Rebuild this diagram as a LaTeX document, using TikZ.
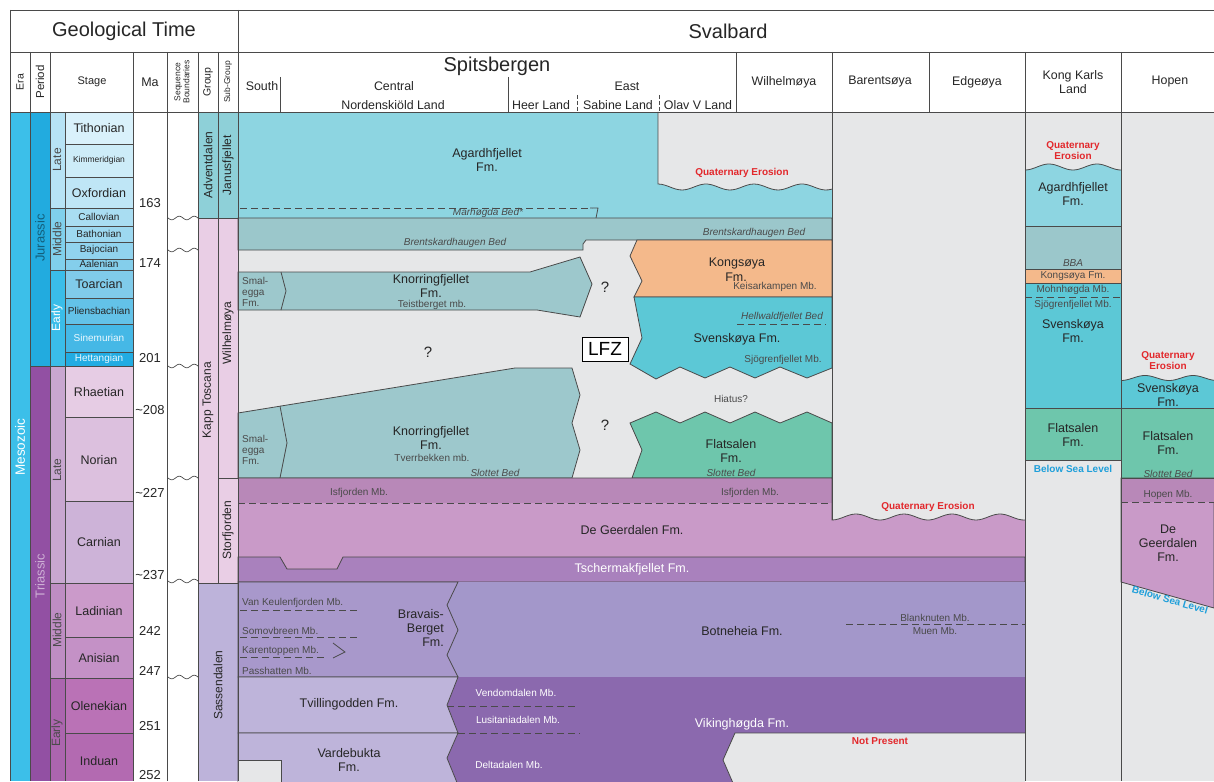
\documentclass[tikz,border=0pt]{standalone}
\usepackage{fontspec}
\setmainfont{Liberation Sans}
\begin{document}
\begin{tikzpicture}[x=1pt,y=-1pt]
\definecolor{ln}{HTML}{4A4A4A}
\definecolor{txt}{HTML}{262626}
\definecolor{txs}{HTML}{4A4A4A}
\definecolor{gbg}{HTML}{E6E7E8}
\definecolor{mesoz}{HTML}{3CBFE9}
\definecolor{juras}{HTML}{22ABDF}
\definecolor{trias}{HTML}{9250A3}
\definecolor{jlate}{HTML}{B7E3F5}
\definecolor{jmid}{HTML}{80D0EC}
\definecolor{jearly}{HTML}{3ABDE9}
\definecolor{tlate}{HTML}{C8A7D0}
\definecolor{tmid}{HTML}{BE8DC3}
\definecolor{tearly}{HTML}{AB65AE}
\definecolor{sTit}{HTML}{D9F1FB}
\definecolor{sKim}{HTML}{CDECF8}
\definecolor{sOxf}{HTML}{BFE6F6}
\definecolor{sCal}{HTML}{A9DDF2}
\definecolor{sBat}{HTML}{9DD8F0}
\definecolor{sBaj}{HTML}{91D3EE}
\definecolor{sAal}{HTML}{84CEEB}
\definecolor{sToa}{HTML}{80CBEA}
\definecolor{sPli}{HTML}{63C2E8}
\definecolor{sSin}{HTML}{45B8E6}
\definecolor{sHet}{HTML}{22ACE2}
\definecolor{sRha}{HTML}{E6CCE4}
\definecolor{sNor}{HTML}{DCC0DE}
\definecolor{sCar}{HTML}{CDB3D8}
\definecolor{sLad}{HTML}{CB9ACA}
\definecolor{sAni}{HTML}{C491C6}
\definecolor{sOle}{HTML}{BA72B6}
\definecolor{sInd}{HTML}{B36AB1}
\definecolor{grpT}{HTML}{8ED0D8}
\definecolor{grpK}{HTML}{E9CEE5}
\definecolor{grpS}{HTML}{BDB3DA}
\definecolor{agd}{HTML}{8DD5E1}
\definecolor{brk}{HTML}{9BC7CB}
\definecolor{knr}{HTML}{9DC8CC}
\definecolor{kgs}{HTML}{F4B98B}
\definecolor{svk}{HTML}{5CC8D6}
\definecolor{fls}{HTML}{6EC6AC}
\definecolor{isf}{HTML}{B888B8}
\definecolor{dgd}{HTML}{C99AC8}
\definecolor{tsc}{HTML}{A981BD}
\definecolor{brv}{HTML}{A898CB}
\definecolor{btn}{HTML}{A397CA}
\definecolor{tvl}{HTML}{BEB4DA}
\definecolor{vkg}{HTML}{8B69AE}
\definecolor{qred}{HTML}{E2282C}
\definecolor{sblue}{HTML}{1E9FDA}
\tikzset{
 bnd/.style={draw=ln,line width=0.8pt},
 dsh/.style={draw=ln,line width=0.8pt,dash pattern=on 7pt off 4pt},
 tx/.style={inner sep=0pt,align=center,text=txt},
 tbig/.style={tx,font=\fontsize{20}{23}\selectfont},
 thd/.style={tx,font=\fontsize{12.4}{14}\selectfont},
 tfm/.style={tx,font=\fontsize{12.5}{14}\selectfont},
 tmb/.style={tx,font=\fontsize{10}{11}\selectfont,text=txs},
 tmbl/.style={inner sep=0pt,align=left,anchor=west,font=\fontsize{10}{11}\selectfont,text=txs},
 tbed/.style={tx,font=\fontsize{10}{11}\selectfont\itshape,text=txs},
 tqe/.style={tx,font=\fontsize{10}{11}\selectfont\bfseries,text=qred},
 tbsl/.style={tx,font=\fontsize{10}{11}\selectfont\bfseries,text=sblue},
 tstb/.style={tx,font=\fontsize{12.5}{14}\selectfont},
 tstm/.style={tx,font=\fontsize{10}{11}\selectfont},
 tma/.style={tx,font=\fontsize{13}{15}\selectfont},
 trot/.style={tx,rotate=90,font=\fontsize{12}{14}\selectfont},
}
\useasboundingbox (0,0) rectangle (1214,781);
\clip (0,0) rectangle (1214,781);
\fill[white] (0,0) rectangle (1214,781);

% ---------- left time columns ----------
\fill[mesoz] (10,112) rectangle (30,781);
\fill[juras] (30,112) rectangle (50,366);
\fill[trias] (30,366) rectangle (50,781);
\fill[jlate] (50,112) rectangle (65,208);
\fill[jmid] (50,208) rectangle (65,270);
\fill[jearly] (50,270) rectangle (65,366);
\fill[tlate] (50,366) rectangle (65,583);
\fill[tmid] (50,583) rectangle (65,678);
\fill[tearly] (50,678) rectangle (65,781);
\fill[sTit] (65,112) rectangle (133,144);
\fill[sKim] (65,144) rectangle (133,177);
\fill[sOxf] (65,177) rectangle (133,208);
\fill[sCal] (65,208) rectangle (133,226);
\fill[sBat] (65,226) rectangle (133,242);
\fill[sBaj] (65,242) rectangle (133,259);
\fill[sAal] (65,259) rectangle (133,270);
\fill[sToa] (65,270) rectangle (133,298);
\fill[sPli] (65,298) rectangle (133,324);
\fill[sSin] (65,324) rectangle (133,352);
\fill[sHet] (65,352) rectangle (133,366);
\fill[sRha] (65,366) rectangle (133,417);
\fill[sNor] (65,417) rectangle (133,501);
\fill[sCar] (65,501) rectangle (133,583);
\fill[sLad] (65,583) rectangle (133,637);
\fill[sAni] (65,637) rectangle (133,678);
\fill[sOle] (65,678) rectangle (133,733);
\fill[sInd] (65,733) rectangle (133,781);
\foreach \yy in {144,177,208,226,242,259,270,298,324,352,366,417,501,583,637,678,733}
  \draw[bnd] (65,\yy) -- (133,\yy);
\foreach \yy in {208,270,366,583,678} \draw[bnd] (50,\yy) -- (65,\yy);
\draw[bnd] (30,366) -- (50,366);
% groups
\fill[grpT] (198,112) rectangle (238,218);
\fill[grpK] (198,218) rectangle (238,583);
\fill[grpS] (198,583) rectangle (238,781);
\draw[bnd] (198,218) -- (238,218);
\draw[bnd] (198,583) -- (238,583);
\draw[bnd] (218,478) -- (238,478);
% sequence boundaries
\foreach \yy in {218,250,366,478,581,677}
  \draw[ln,line width=0.7pt] plot[domain=168:198,samples=25] (\x,{\yy+1.8*sin((\x-168)*24)});

% ---------- Svalbard body ----------
\fill[gbg] (238,112) rectangle (1214,781);
% Agardhfjellet
\fill[agd] (238,112) rectangle (832,218);
\fill[gbg] (658,112) -- plot[domain=658:832,samples=50] (\x,{187-3*cos((\x-658)*7.5)}) -- (832,112) -- cycle;
\draw[bnd] (658,112) -- plot[domain=658:832,samples=50] (\x,{187-3*cos((\x-658)*7.5)});
\draw[dsh] (240,208) -- (592,208);
\draw[bnd] (590,208) -- (598,208) -- (596,218);
% Brentskardhaugen
\filldraw[fill=brk,bnd] (238,218) -- (832,218) -- (832,240) -- (586,240) -- (583,244) -- (583,250) -- (238,250) -- cycle;
% upper Knorringfjellet
\filldraw[fill=knr,bnd] (238,272) -- (530,272) -- (580,257) -- (592,284) -- (580,317) -- (537,310) -- (238,310) -- cycle;
\draw[bnd] (281,272) -- (286,291) -- (281,310);
% lower Knorringfjellet
\filldraw[fill=knr,bnd] (238,413) -- (515,368) -- (572,368) -- (580,395) -- (572,423) -- (580,450) -- (572,478) -- (238,478) -- cycle;
\draw[bnd] (280,406) -- (287,443) -- (280,478);
% Kongsoya
\filldraw[fill=kgs,bnd] (637,240) -- (832,240) -- (832,297) -- (634,297) -- (642,281) -- (630,256) -- cycle;
% Svenskoya
\filldraw[fill=svk,bnd] (634,297) -- (832,297) -- (832,368) -- (807,378) -- (780,367) -- (755,378) -- (730,367) -- (705,378) -- (680,367) -- (656,379) -- (630,364) -- (642,338) -- cycle;
\draw[dsh] (737,324) -- (826,324);
% Flatsalen
\filldraw[fill=fls,bnd] (630,423) -- (656,412) -- (680,423) -- (705,412) -- (730,423) -- (755,412) -- (780,423) -- (807,412) -- (832,423) -- (832,478) -- (632,478) -- (642,450) -- cycle;
% LFZ box
\node[draw=black,line width=0.8pt,fill=white,minimum width=46pt,minimum height=24pt,inner sep=0pt,font=\fontsize{19}{21}\selectfont] (lfz) at (605,349) {LFZ};

% Triassic Kapp Toscana / Storfjorden
\fill[dgd] (238,478) rectangle (1025,582);
\fill[isf] (238,478) rectangle (832,503);
\fill[gbg] (832,478) -- plot[domain=832:1025,samples=60] (\x,{517+3*cos((\x-832)*7.5)}) -- (1025,478) -- cycle;
\draw[bnd] (238,478) -- (832,478) -- plot[domain=832:1025,samples=60] (\x,{517+3*cos((\x-832)*7.5)});
\draw[dsh] (238,503) -- (832,503);
\filldraw[fill=tsc,bnd] (238,557) -- (280,557) -- (287,569) -- (337,569) -- (343,557) -- (1025,557) -- (1025,582) -- (238,582) -- cycle;
% Sassendalen
\fill[btn] (238,582) rectangle (1025,677);
\filldraw[fill=brv,bnd] (238,582) -- (458,582) -- (447,605) -- (458,630) -- (447,655) -- (458,677) -- (238,677) -- cycle;
\draw[bnd] (238,677) -- (1025,677);
\draw[dsh] (240,610) -- (357,610);
\draw[dsh] (240,637) -- (357,637);
\draw[dsh] (240,657) -- (327,657);
\draw[bnd] (333,643) -- (345,652) -- (333,658);
\draw[dsh] (846,624) -- (1025,624);
\fill[vkg] (440,677) rectangle (1025,790);
\filldraw[fill=tvl,bnd] (238,677) -- (458,677) -- (447,705) -- (458,733) -- (238,733) -- cycle;
\filldraw[fill=tvl,bnd] (238,733) -- (458,733) -- (447,758) -- (458,785) -- (238,785) -- cycle;
\filldraw[fill=gbg,bnd] (238,760) -- (281,760) -- (281,790) -- (238,790);
\filldraw[fill=gbg,bnd] (1025,733) -- (735,733) -- (723,760) -- (736,790) -- (1025,790);
\draw[dsh] (447,706) -- (575,706);
\draw[dsh,line width=0.5pt] (458,733) -- (580,733);

% Kong Karls Land
\fill[agd] (1025,226) -- plot[domain=1025:1121,samples=40] (\x,{167+3*cos((\x-1025)*7.5)}) -- (1121,226) -- cycle;
\draw[bnd] plot[domain=1025:1121,samples=40] (\x,{167+3*cos((\x-1025)*7.5)});
\filldraw[fill=brk,bnd] (1025,226) rectangle (1121,269);
\filldraw[fill=kgs,bnd] (1025,269) rectangle (1121,283);
\filldraw[fill=svk,bnd] (1025,283) rectangle (1121,408);
\filldraw[fill=fls,bnd] (1025,408) rectangle (1121,460);
\draw[dsh] (1025,297) -- (1121,297);
% Hopen
\fill[svk] (1121,408) -- plot[domain=1121:1214,samples=40] (\x,{378+2.5*cos((\x-1121)*7.5)}) -- (1214,408) -- cycle;
\draw[bnd] plot[domain=1121:1214,samples=40] (\x,{378+2.5*cos((\x-1121)*7.5)});
\filldraw[fill=fls,bnd] (1121,408) rectangle (1214,478);
\filldraw[fill=dgd,bnd] (1121,478) -- (1214,478) -- (1214,608) -- (1121,582) -- cycle;
\fill[isf] (1121,478) rectangle (1214,502);
\draw[bnd] (1121,478) -- (1214,478);
\draw[dsh] (1121,502) -- (1214,502);

% ---------- frame lines ----------
\draw[bnd] (10,10) -- (1214,10);
\draw[bnd] (10,52) -- (1214,52);
\draw[bnd] (10,112) -- (1214,112);
\draw[bnd] (10,10) -- (10,781);
\draw[bnd] (238,10) -- (238,781);
\foreach \xx in {30,50,133,167,198} \draw[bnd] (\xx,52) -- (\xx,781);
\draw[bnd] (218,52) -- (218,583);
\draw[bnd] (65,112) -- (65,781);
\draw[bnd] (736,52) -- (736,112);
\draw[bnd] (929,52) -- (929,112);
\draw[bnd] (832,52) -- (832,520);
\draw[bnd] (1025,52) -- (1025,781);
\draw[bnd] (1121,52) -- (1121,781);
\draw[bnd] (280,77) -- (280,112);
\draw[bnd] (508,77) -- (508,112);
\draw[ln,line width=0.8pt,dash pattern=on 4pt off 2pt] (577,95) -- (577,111);
\draw[ln,line width=0.8pt,dash pattern=on 4pt off 2pt] (659,95) -- (659,111);

% ---------- header texts ----------
\node[tbig] (hGT) at (124,31) {Geological Time};
\node[tbig] (hSv) at (728,31) {Svalbard};
\node[tx,rotate=90,font=\fontsize{10.5}{12}\selectfont] (hEra) at (20,82) {Era};
\node[tx,rotate=90,font=\fontsize{11.5}{13}\selectfont] (hPer) at (40,82) {Period};
\node[tx,font=\fontsize{11}{13}\selectfont] (hStg) at (92,82) {Stage};
\node[tx,font=\fontsize{12.5}{14}\selectfont] (hMa) at (150,82) {Ma};
\node[tx,rotate=90,font=\fontsize{8.5}{9}\selectfont] (hSeq) at (182,82) {Sequence\\Boundaries};
\node[tx,rotate=90,font=\fontsize{10.5}{12}\selectfont] (hGrp) at (208,82) {Group};
\node[tx,rotate=90,font=\fontsize{8.5}{10}\selectfont] (hSub) at (228,82) {Sub-Group};
\node[tx,font=\fontsize{20}{23}\selectfont] (hSp) at (497,66) {Spitsbergen};
\node[thd] (hSo) at (262,86) {South};
\node[thd] (hCe) at (394,86) {Central};
\node[thd] (hEa) at (627,86) {East};
\node[thd] (hNo) at (393,105) {Nordenskiöld Land};
\node[thd] (hHe) at (541,105) {Heer Land};
\node[thd] (hSa) at (618,105) {Sabine Land};
\node[thd] (hOl) at (698,105) {Olav V Land};
\node[thd] (hWi) at (784,82) {Wilhelmøya};
\node[thd] (hBa) at (880,82) {Barentsøya};
\node[thd] (hEd) at (977,82) {Edgeøya};
\node[thd] (hKK) at (1073,82) {Kong Karls\\Land};
\node[thd] (hHo) at (1170,82) {Hopen};

% ---------- time column texts ----------
\node[tx,rotate=90,text=white,font=\fontsize{13.5}{15}\selectfont] (tMes) at (20,447) {Mesozoic};
\node[tx,rotate=90,text=juras!55!black,font=\fontsize{13}{15}\selectfont] (tJur) at (40,238) {Jurassic};
\node[tx,rotate=90,text=tlate!90!white,font=\fontsize{13}{15}\selectfont] (tTri) at (40,576) {Triassic};
\node[tx,rotate=90,text=txs,font=\fontsize{12}{14}\selectfont] (eJL) at (57,160) {Late};
\node[tx,rotate=90,text=txs,font=\fontsize{12}{14}\selectfont] (eJM) at (57,239) {Middle};
\node[tx,rotate=90,text=white,font=\fontsize{12}{14}\selectfont] (eJE) at (57,318) {Early};
\node[tx,rotate=90,text=txs,font=\fontsize{12}{14}\selectfont] (eTL) at (57,470) {Late};
\node[tx,rotate=90,text=txs,font=\fontsize{12}{14}\selectfont] (eTM) at (57,630) {Middle};
\node[tx,rotate=90,text=txs,font=\fontsize{12}{14}\selectfont] (eTE) at (57,733) {Early};
\node[tstb] (sg1) at (99,128) {Tithonian};
\node[tx,font=\fontsize{8.5}{10}\selectfont] (sg2) at (99,160) {Kimmeridgian};
\node[tstb] (sg3) at (99,193) {Oxfordian};
\node[tstm] (sg4) at (99,217) {Callovian};
\node[tstm] (sg5) at (99,234) {Bathonian};
\node[tstm] (sg6) at (99,250) {Bajocian};
\node[tstm] (sg7) at (99,264) {Aalenian};
\node[tstb] (sg8) at (99,284) {Toarcian};
\node[tstm] (sg9) at (99,311) {Pliensbachian};
\node[tstm,text=white!92!cyan] (sg10) at (99,338) {Sinemurian};
\node[tstm,text=white!92!cyan] (sg11) at (99,359) {Hettangian};
\node[tstb] (sg12) at (99,392) {Rhaetian};
\node[tstb] (sg13) at (99,460) {Norian};
\node[tstb] (sg14) at (99,542) {Carnian};
\node[tstb] (sg15) at (99,611) {Ladinian};
\node[tstb] (sg16) at (99,658) {Anisian};
\node[tstb] (sg17) at (99,706) {Olenekian};
\node[tstb] (sg18) at (99,761) {Induan};
\node[tma] (m1) at (150,203) {163};
\node[tma] (m2) at (150,263) {174};
\node[tma] (m3) at (150,358) {201};
\node[tma] (m4) at (150,410) {\textasciitilde208};
\node[tma] (m5) at (150,493) {\textasciitilde227};
\node[tma] (m6) at (150,575) {\textasciitilde237};
\node[tma] (m7) at (150,631) {242};
\node[tma] (m8) at (150,671) {247};
\node[tma] (m9) at (150,726) {251};
\node[tma] (m10) at (150,775) {252};
\node[trot] (gAd) at (208,165) {Adventdalen};
\node[trot] (gJa) at (228,165) {Janusfjellet};
\node[trot] (gKT) at (208,400) {Kapp Toscana};
\node[trot] (gWi) at (228,333) {Wilhelmøya};
\node[trot] (gSt) at (228,530) {Storfjorden};
\node[trot] (gSa) at (218,685) {Sassendalen};

% ---------- Spitsbergen texts ----------
\node[tfm] (fAg) at (487,160) {Agardhfjellet\\Fm.};
\node[tbed] (bMa) at (488,213) {Marhøgda Bed*};
\node[tqe] (qe1) at (742,173) {Quaternary Erosion};
\node[tbed] (bBr1) at (455,243) {Brentskardhaugen Bed};
\node[tbed] (bBr2) at (754,233) {Brentskardhaugen Bed};
\node[tmbl] (fSm1) at (242,292) {Smal-\\egga\\Fm.};
\node[tfm] (fKn1) at (431,286) {Knorringfjellet\\Fm.};
\node[tmb] (mTe) at (432,305) {Teistberget mb.};
\node[tfm,font=\fontsize{15}{17}\selectfont] (q1) at (428,352) {?};
\node[tfm,font=\fontsize{15}{17}\selectfont] (q2) at (605,287) {?};
\node[tfm,font=\fontsize{15}{17}\selectfont] (q3) at (605,425) {?};
\node[tmbl] (fSm2) at (242,450) {Smal-\\egga\\Fm.};
\node[tfm] (fKn2) at (431,438) {Knorringfjellet\\Fm.};
\node[tmb] (mTv) at (432,458) {Tverrbekken mb.};
\node[tbed] (bSl1) at (495,473) {Slottet Bed};
\node[tfm] (fKo) at (737,263) {Kongsøya};
\node[tfm] (fKo2) at (736,277) {Fm.};
\node[tmb] (mKe) at (775,287) {Keisarkampen Mb.};
\node[tbed] (bHe) at (782,317) {Hellwaldfjellet Bed};
\node[tfm] (fSv) at (737,339) {Svenskøya Fm.};
\node[tmb] (mSj) at (783,360) {Sjögrenfjellet Mb.};
\node[tmb] (hia) at (731,399) {Hiatus?};
\node[tfm] (fFl) at (731,451) {Flatsalen\\Fm.};
\node[tbed] (bSl2) at (731,473) {Slottet Bed};

% ---------- Triassic texts ----------
\node[tmb] (mIs1) at (359,493) {Isfjorden Mb.};
\node[tmb] (mIs2) at (750,493) {Isfjorden Mb.};
\node[tqe] (qe2) at (928,507) {Quaternary Erosion};
\node[tfm] (fDG) at (632,530) {De Geerdalen Fm.};
\node[tfm,text=white] (fTs) at (632,569) {Tschermakfjellet Fm.};
\node[tmbl] (mVK) at (242,603) {Van Keulenfjorden Mb.};
\node[tmbl] (mSo) at (242,631) {Somovbreen Mb.};
\node[tmbl] (mKa) at (242,651) {Karentoppen Mb.};
\node[tmbl] (mPa) at (242,671) {Passhatten Mb.};
\node[tfm,align=right,anchor=east] (fBB) at (444,628) {Bravais-\\Berget\\Fm.};
\node[tfm] (fBo) at (742,631) {Botneheia Fm.};
\node[tmb] (mBl) at (935,618) {Blanknuten Mb.};
\node[tmb] (mMu) at (935,631) {Muen Mb.};
\node[tfm] (fTv) at (349,704) {Tvillingodden Fm.};
\node[tmb,text=white] (mVe) at (516,693) {Vendomdalen Mb.};
\node[tmb,text=white] (mLu) at (518,720) {Lusitaniadalen Mb.};
\node[tmb,text=white] (mDe) at (509,765) {Deltadalen Mb.};
\node[tfm,text=white] (fVi) at (742,724) {Vikinghøgda Fm.};
\node[tqe] (np) at (880,741) {Not Present};
\node[tfm] (fVa) at (349,760) {Vardebukta\\Fm.};

% ---------- Kong Karls Land texts ----------
\node[tqe] (qe3) at (1073,151) {Quaternary\\Erosion};
\node[tfm] (kAg) at (1073,194) {Agardhfjellet\\Fm.};
\node[tbed] (kBB) at (1073,263) {BBA};
\node[tmb] (kKo) at (1073,276) {Kongsøya Fm.};
\node[tmb] (kMo) at (1073,290) {Mohnhøgda Mb.};
\node[tmb] (kSj) at (1073,305) {Sjögrenfjellet Mb.};
\node[tfm] (kSv) at (1073,331) {Svenskøya\\Fm.};
\node[tfm] (kFl) at (1073,435) {Flatsalen\\Fm.};
\node[tbsl] (kBs) at (1073,469) {Below Sea Level};

% ---------- Hopen texts ----------
\node[tqe] (qe4) at (1168,361) {Quaternary\\Erosion};
\node[tfm] (oSv) at (1168,395) {Svenskøya\\Fm.};
\node[tfm] (oFl) at (1168,443) {Flatsalen\\Fm.};
\node[tbed] (oSl) at (1168,474) {Slottet Bed};
\node[tmb] (oHo) at (1168,495) {Hopen Mb.};
\node[tfm] (oDG) at (1168,543) {De\\Geerdalen\\Fm.};
\node[tbsl,rotate=-16] (oBs) at (1170,600) {Below Sea Level};
\end{tikzpicture}
\end{document}
